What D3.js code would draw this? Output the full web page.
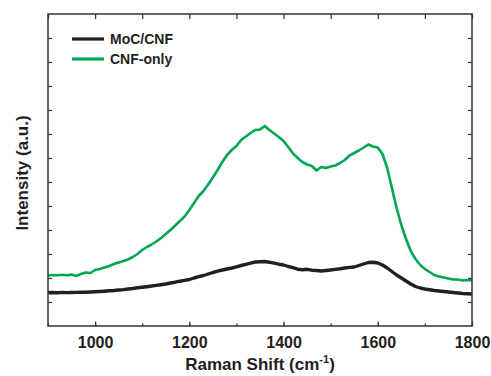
<!DOCTYPE html>
<html>
<head>
<meta charset="utf-8">
<script src="https://cdn.jsdelivr.net/npm/d3@7"></script>
<style>
  body { margin: 0; background: #fff; }
  text { font-family: "Liberation Sans", Arial, sans-serif; font-weight: bold; fill: #231f20; }
</style>
</head>
<body>
<div id="chart"></div>
<script>
// Raman shift (cm-1), sampled every 10
const shift = d3.range(900, 1801, 10);

// CNF-only intensity (a.u.)
const cnfOnly = [
  50.5, 51, 50.7, 51.2, 50.8, 51.4, 50, 52, 53.5, 53,
  56, 57, 58.5, 60, 62, 63.5, 65, 66.5, 69, 72,
  76, 79, 81.5, 84.5, 88, 92, 96, 100.5, 105, 109.5,
  116, 123, 130, 135, 141.5, 148.5, 156, 164, 171, 176,
  180, 186, 189.5, 193, 196, 196.5, 200, 196, 192.5, 189,
  185, 179, 172.5, 168, 164, 161.5, 160, 155.5, 159, 158,
  159.5, 160.5, 163, 166, 170.5, 173, 175.5, 178.5, 181.5, 179.5,
  178.5, 172, 158, 138, 118, 101, 87, 75, 67, 61,
  57, 54, 51, 49.5, 48.5, 47.5, 46.5, 46.5, 45.5, 46,
  45.5
];

// MoC/CNF intensity (a.u.)
const mocCnf = [
  33.3, 33.5, 33.3, 33.6, 33.4, 33.5, 33.6, 33.8, 33.7, 34,
  34.3, 34.5, 34.8, 35.2, 35.5, 36, 36.4, 37, 37.5, 38.2,
  38.7, 39.3, 40, 40.6, 41.3, 42, 43, 43.8, 44.8, 45.6,
  46.5, 48, 49.3, 50.5, 52, 53.5, 54.8, 56, 57, 58,
  59.2, 60.5, 61.7, 62.8, 64, 64.3, 64.5, 63.8, 62.8, 61.8,
  61, 59.5, 58.3, 56.8, 56.2, 56.7, 55.8, 55.5, 55, 55.5,
  56, 56.6, 57.2, 58, 58.6, 59, 60.5, 62, 63.5, 63.8,
  63, 61, 58, 54.5, 51, 48, 45, 42, 39.5, 38,
  37, 36.2, 35.5, 35, 34.5, 34, 33.5, 33, 32.5, 32.3,
  32
];

const seriesNames = ["MoC/CNF", "CNF-only"];
const seriesColors = ["#231f20", "#00a651"];
const xMajor = [1000, 1200, 1400, 1600, 1800];
const xMinor = d3.range(900, 1801, 100);
const yTicks = d3.range(24, 312, 24);

const width = 491, height = 376;
const margin = { top: 14, right: 19, bottom: 50, left: 48 };
const w = width - margin.left - margin.right;
const h = height - margin.top - margin.bottom;

const svg = d3.select("#chart").append("svg")
  .attr("width", width)
  .attr("height", height);

const g = svg.append("g")
  .attr("transform", `translate(${margin.left},${margin.top})`);

const x = d3.scaleLinear().domain([900, 1800]).range([0, w]);
const y = d3.scaleLinear().domain([0, 312]).range([h, 0]);

const line = d3.line()
  .x((d, i) => x(shift[i]))
  .y(d => y(d));

// 曲線
g.append("path")
  .datum(cnfOnly)
  .attr("fill", "none")
  .attr("stroke", seriesColors[1])
  .attr("stroke-width", 2.6)
  .attr("stroke-linejoin", "round")
  .attr("d", line);

g.append("path")
  .datum(mocCnf)
  .attr("fill", "none")
  .attr("stroke", seriesColors[0])
  .attr("stroke-width", 3.4)
  .attr("stroke-linejoin", "round")
  .attr("d", line);

// 座標軸
function styleAxis(sel) {
  sel.select(".domain").remove();
  sel.selectAll(".tick line").attr("stroke", "#333").attr("stroke-width", 1.2);
}

g.append("g")
  .attr("transform", `translate(0,${h})`)
  .call(d3.axisBottom(x).tickValues(xMinor).tickSize(-2.5).tickFormat(""))
  .call(styleAxis);

g.append("g")
  .attr("transform", `translate(0,${h})`)
  .call(d3.axisBottom(x).tickValues(xMajor).tickSize(-4.5).tickPadding(11).tickFormat(d3.format("d")))
  .call(styleAxis)
  .call(a => a.selectAll("text").attr("font-size", 16).attr("fill", "#231f20")
    .attr("font-family", "Liberation Sans, Arial, sans-serif").attr("font-weight", "bold"));

g.append("g")
  .call(d3.axisTop(x).tickValues(xMinor).tickSize(-5).tickFormat(""))
  .call(styleAxis);

g.append("g")
  .call(d3.axisLeft(y).tickValues(yTicks).tickSize(-4).tickFormat(""))
  .call(styleAxis);

g.append("g")
  .attr("transform", `translate(${w},0)`)
  .call(d3.axisRight(y).tickValues(yTicks).tickSize(-4).tickFormat(""))
  .call(styleAxis);

g.append("rect")
  .attr("width", w)
  .attr("height", h)
  .attr("fill", "none")
  .attr("stroke", "#333")
  .attr("stroke-width", 1.5);

// 圖例
const legend = g.append("g").attr("transform", "translate(24,25)");
seriesNames.forEach((name, i) => {
  const row = legend.append("g").attr("transform", `translate(0,${i * 20})`);
  row.append("line")
    .attr("x1", 0).attr("x2", 32)
    .attr("stroke", seriesColors[i])
    .attr("stroke-width", 3.2);
  row.append("text")
    .attr("x", 38).attr("y", 5)
    .attr("font-size", 14)
    .text(name);
});

// 標題
const xt = svg.append("text")
  .attr("x", margin.left + w / 2)
  .attr("y", 370)
  .attr("text-anchor", "middle")
  .attr("font-size", 17);
xt.append("tspan").text("Raman Shift (cm");
xt.append("tspan").attr("font-size", 11).attr("dy", -7).text("-1");
xt.append("tspan").attr("dy", 7).text(")");

svg.append("text")
  .attr("transform", "translate(28,173) rotate(-90)")
  .attr("text-anchor", "middle")
  .attr("font-size", 17)
  .text("Intensity (a.u.)");
</script>
</body>
</html>
